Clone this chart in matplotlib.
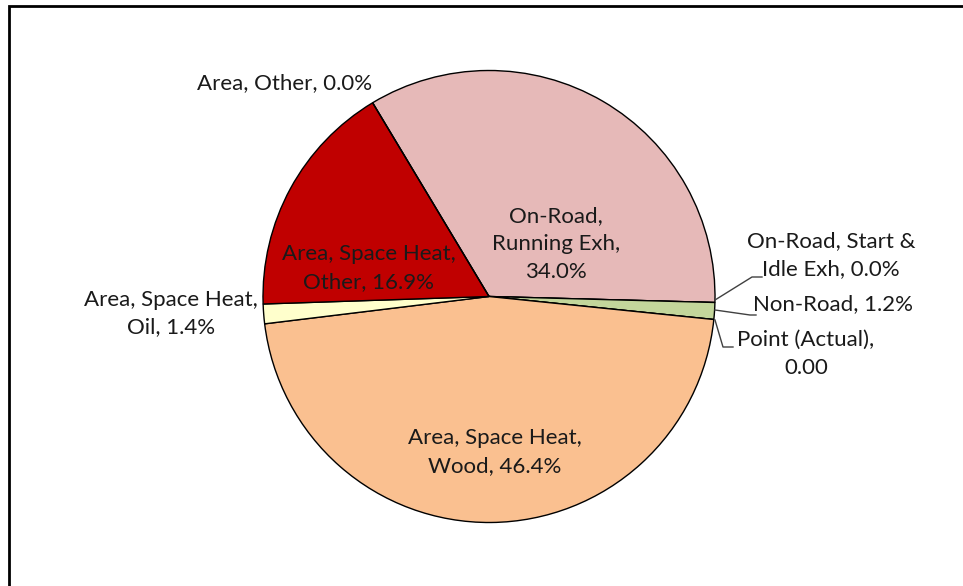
import matplotlib
matplotlib.use("Agg")
import matplotlib.pyplot as plt
from matplotlib.patches import Rectangle

labels = ["On-Road, Running Exh", "On-Road, Start & Idle Exh", "Non-Road",
          "Point (Actual)", "Area, Space Heat, Wood", "Area, Space Heat, Oil",
          "Area, Space Heat, Other", "Area, Other"]
values = [34.0, 0.0, 1.2, 0.0, 46.4, 1.4, 16.9, 0.0]
label_texts = ["On-Road,\nRunning Exh,\n34.0%", "On-Road, Start &\nIdle Exh, 0.0%",
               "Non-Road, 1.2%", "Point (Actual),\n0.00",
               "Area, Space Heat,\nWood, 46.4%", "Area, Space Heat,\nOil, 1.4%",
               "Area, Space Heat,\nOther, 16.9%", "Area, Other, 0.0%"]
colors = ["#E6B9B8", "#E6B9B8", "#C3D69B", "#FFFFFF", "#FAC090", "#FFFFCC",
          "#C00000", "#C00000"]

W, H = 963, 586
fig = plt.figure(figsize=(W / 100, H / 100), dpi=100)
ax = fig.add_axes([0, 0, 1, 1])

def Y(y):
    return H - y

cx, cy, r = 489, Y(296.5), 226
ax.pie(values, colors=colors, startangle=121, counterclock=False,
       center=(cx, cy), radius=r, frame=True,
       wedgeprops=dict(edgecolor="black", linewidth=1.0))
ax.set_xlim(0, W)
ax.set_ylim(0, H)
ax.axis("off")
ax.set_aspect("auto")

# frame
ax.add_patch(Rectangle((9, Y(1000)), 2000, 1000 - 6, fill=False, edgecolor="black",
                       linewidth=2.0, clip_on=False))

font = dict(family="Lato", fontsize=16, color="#1a1a1a", ha="center", va="center",
            linespacing=1.5)
pos = [(556, 244.5), (831, 255), (833, 304.5), (806, 353.5),
       (495, 452.5), (171, 313.5), (368.5, 268.5), (284.5, 83)]
for t, (x, y) in zip(label_texts, pos):
    ax.text(x, Y(y), t, **font)

# leader lines
leaders = [
    [(715, 300), (752, 277), (762, 277)],
    [(715, 310), (750, 315), (756, 315)],
    [(715, 320), (723, 347), (733, 347)],
]
for pts in leaders:
    xs = [p[0] for p in pts]
    ys = [Y(p[1]) for p in pts]
    ax.plot(xs, ys, color="#404040", linewidth=1.0)

fig.savefig("out.png", dpi=100, facecolor="white")
